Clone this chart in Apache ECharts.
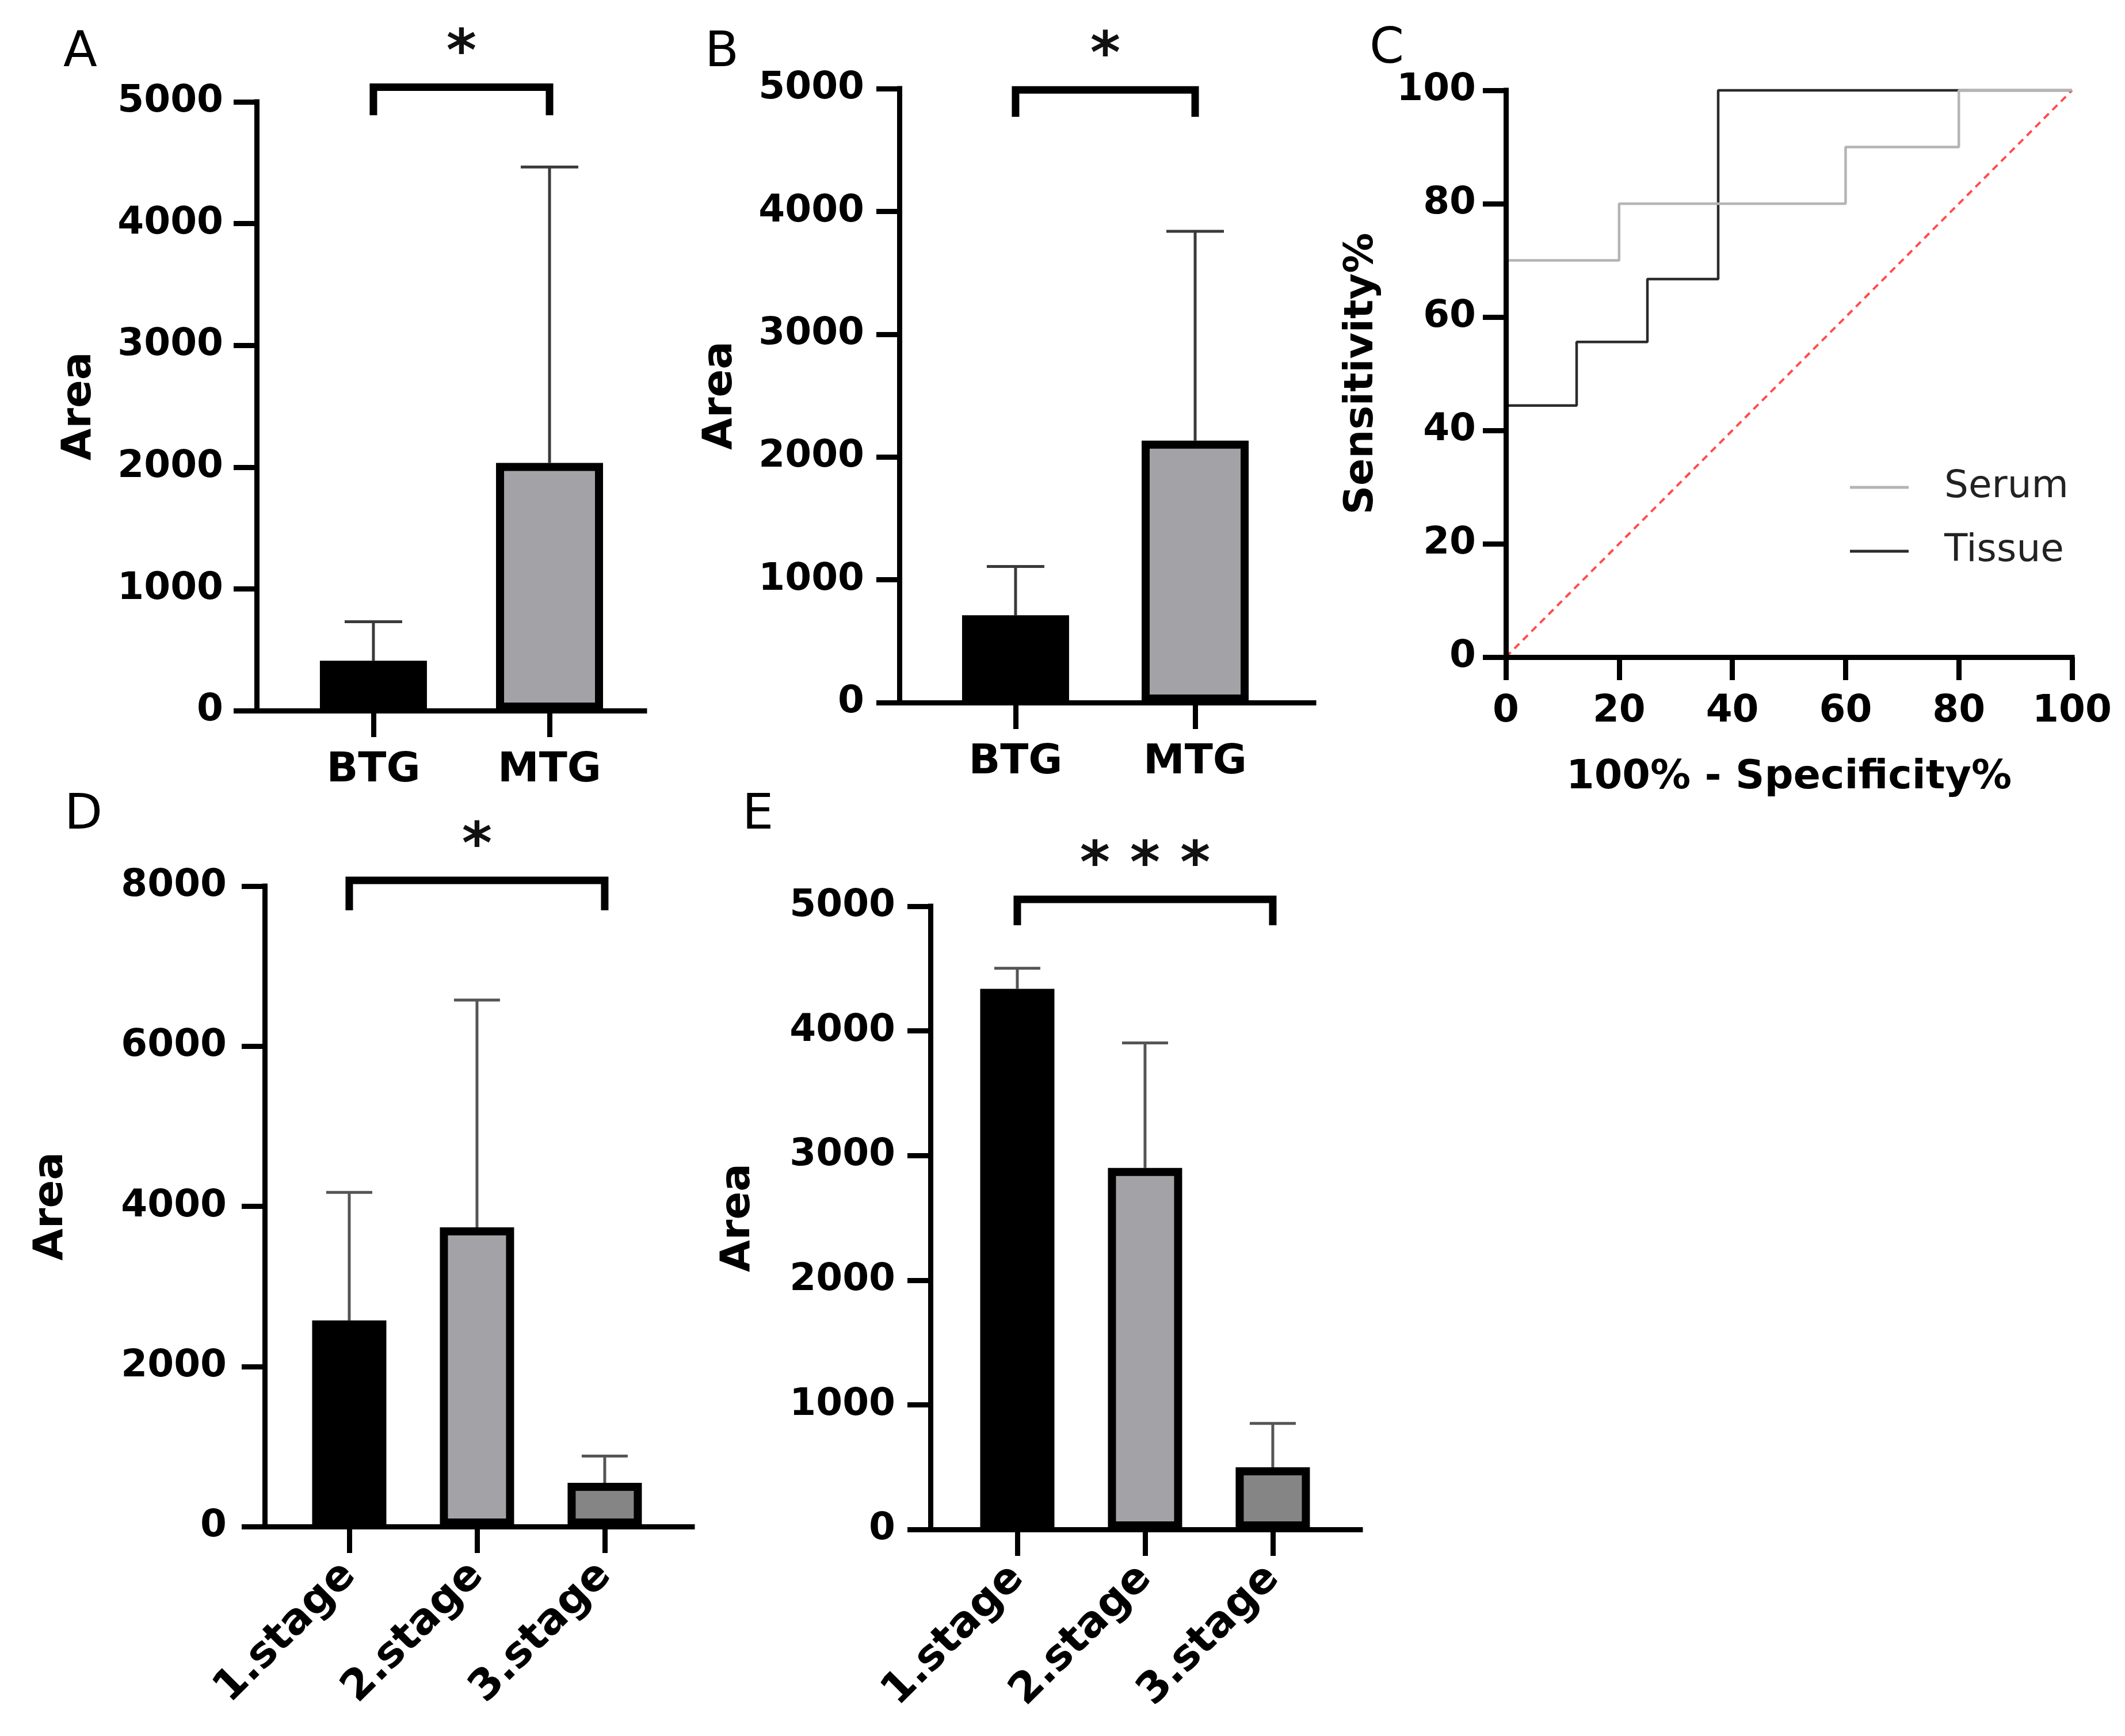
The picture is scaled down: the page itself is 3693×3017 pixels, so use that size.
<!DOCTYPE html>
<html>
<head>
<meta charset="utf-8">
<script src="https://cdn.jsdelivr.net/npm/echarts@6/dist/echarts.min.js"></script>
<style>
html,body{margin:0;padding:0;background:#fff;}
#c{width:3693px;height:3017px;}
</style>
</head>
<body>
<div id="c"></div>
<script>
// ---------- data ----------
const catsAB = ['BTG', 'MTG'];
const meanA = [410, 2035];
const upperA = [730, 4465];
const meanB = [711, 2133];
const upperB = [1108, 3838];

const catsDE = ['1.stage', '2.stage', '3.stage'];
const meanD = [2575, 3737, 546];
const upperD = [4175, 6576, 880];
const meanE = [4338, 2901, 499];
const upperE = [4503, 3903, 851];

const rocSerum = [[0,0],[0,70],[20,70],[20,80],[60,80],[60,90],[80,90],[80,100],[100,100]];
const rocTissue = [[0,0],[0,44.4],[12.5,44.4],[12.5,55.6],[25,55.6],[25,66.7],[37.5,66.7],[37.5,100],[100,100]];
const rocRef = [[0,0],[100,100]];

// significance brackets: [fromIndex, toIndex, bracketLevel, legEndLevel]
const bracketA = [0, 1, 5120, 4890];
const bracketB = [0, 1, 4990, 4770];
const bracketD = [0, 2, 8072, 7698];
const bracketE = [0, 2, 5055, 4848];
const starsA = '*', starsB = '*', starsD = '*', starsE = '* * *';

// ---------- styles ----------
const FF = 'DejaVu Sans';
const barFill = ['#000000', '#a3a3a7', '#858585'];

const chart = echarts.init(document.getElementById('c'));

function axisLineStyle() { return {show: true, onZero: false, lineStyle: {color: '#000', width: 9, cap: 'square'}}; }
const plain = v => String(v);

function barX(gi, min, max, cats, rotate) {
  const vals = cats.map((c, i) => i);
  return {
    type: 'value', gridIndex: gi, min: min, max: max, z: 10,
    axisLine: axisLineStyle(),
    axisTick: {show: true, customValues: vals, length: 46, lineStyle: {color: '#000', width: 9}},
    axisLabel: {customValues: vals, formatter: v => cats[Math.round(v)] || '',
      margin: rotate ? 74 : 68, rotate: rotate || 0, fontSize: rotate ? 74 : 72, fontWeight: 'bold', fontFamily: FF, color: '#000'},
    splitLine: {show: false}
  };
}
function barY(gi, max, interval, gap, margin) {
  return {
    type: 'value', gridIndex: gi, min: 0, max: max, interval: interval, z: 10,
    axisLine: axisLineStyle(),
    axisTick: {show: true, length: 40, lineStyle: {color: '#000', width: 9}},
    axisLabel: {margin: margin, fontSize: 66, fontWeight: 'bold', fontFamily: FF, color: '#000', formatter: plain},
    splitLine: {show: false},
    name: 'Area', nameLocation: 'middle', nameGap: gap,
    nameTextStyle: {fontSize: 72, fontWeight: 'bold', fontFamily: FF, color: '#000'}
  };
}
function barSeries(gi, means, bw) {
  return {
    type: 'bar', xAxisIndex: gi, yAxisIndex: gi, barWidth: bw, z: 3,
    itemStyle: {borderColor: '#000', borderWidth: 14},
    data: means.map((v, i) => ({value: [i, v], itemStyle: {color: barFill[i]}}))
  };
}
function errSeries(gi, means, uppers, hw, col) {
  return {
    type: 'custom', xAxisIndex: gi, yAxisIndex: gi, z: 1, clip: false,
    data: means.map((m, i) => [i, m, uppers[i]]),
    renderItem: function (params, api) {
      const p0 = api.coord([api.value(0), api.value(1)]);
      const p1 = api.coord([api.value(0), api.value(2)]);
      return {type: 'group', children: [
        {type: 'line', shape: {x1: p0[0], y1: p0[1], x2: p1[0], y2: p1[1]}, style: {stroke: col, lineWidth: 5}},
        {type: 'line', shape: {x1: p1[0] - hw, y1: p1[1], x2: p1[0] + hw, y2: p1[1]}, style: {stroke: col, lineWidth: 5}}
      ]};
    }
  };
}
function bracketSeries(gi, br, stars) {
  return {
    type: 'custom', xAxisIndex: gi, yAxisIndex: gi, z: 5, clip: false,
    data: [br],
    renderItem: function (params, api) {
      const a = api.coord([api.value(0), api.value(2)]);
      const b = api.coord([api.value(1), api.value(2)]);
      const leg = api.coord([api.value(0), api.value(3)])[1];
      return {type: 'group', children: [
        {type: 'polyline', shape: {points: [[a[0], leg], [a[0], a[1]], [b[0], b[1]], [b[0], leg]]},
          style: {stroke: '#000', lineWidth: 13, fill: null, lineJoin: 'miter', lineCap: 'butt'}},
        {type: 'text', style: {text: stars, x: (a[0] + b[0]) / 2, y: a[1] - 56, align: 'center', verticalAlign: 'middle',
          font: 'bold 100px "DejaVu Sans"', fill: '#111'}}
      ]};
    }
  };
}

const option = {
  backgroundColor: '#fff',
  animation: false,
  textStyle: {fontFamily: FF},
  grid: [
    {left: 446, top: 177, width: 674, height: 1058},
    {left: 1563, top: 154, width: 720, height: 1067},
    {left: 2617, top: 157, width: 984, height: 985},
    {left: 460, top: 1540, width: 743, height: 1113},
    {left: 1617, top: 1575, width: 747, height: 1083}
  ],
  xAxis: [
    barX(0, -0.663, 1.539, catsAB),
    barX(1, -0.647, 1.660, catsAB),
    {type: 'value', gridIndex: 2, min: 0, max: 100, interval: 20, z: 10,
      axisLine: axisLineStyle(),
      axisTick: {show: true, length: 40, lineStyle: {color: '#000', width: 9}},
      axisLabel: {margin: 62, fontSize: 66, fontWeight: 'bold', fontFamily: FF, color: '#000', formatter: plain},
      splitLine: {show: false},
      name: '100% - Specificity%', nameLocation: 'middle', nameGap: 175,
      nameTextStyle: {fontSize: 70, fontWeight: 'bold', fontFamily: FF, color: '#000'}},
    barX(3, -0.662, 2.685, catsDE, 45),
    barX(4, -0.680, 2.685, catsDE, 45)
  ],
  yAxis: [
    barY(0, 5000, 1000, 272, 58),
    barY(1, 5000, 1000, 275, 61),
    {type: 'value', gridIndex: 2, min: 0, max: 100, interval: 20, z: 10,
      axisLine: axisLineStyle(),
      axisTick: {show: true, length: 40, lineStyle: {color: '#000', width: 9}},
      axisLabel: {margin: 52, fontSize: 66, fontWeight: 'bold', fontFamily: FF, color: '#000', formatter: plain},
      splitLine: {show: false},
      name: 'Sensitivity%', nameLocation: 'middle', nameGap: 215,
      nameTextStyle: {fontSize: 70, fontWeight: 'bold', fontFamily: FF, color: '#000'}},
    barY(3, 8000, 2000, 335, 66),
    barY(4, 5000, 1000, 298, 61)
  ],
  legend: {
    data: [{name: 'Serum', icon: 'rect'}, {name: 'Tissue', icon: 'rect'}],
    orient: 'vertical', left: 3210, top: 807,
    itemWidth: 102, itemHeight: 5, itemGap: 41,
    textStyle: {fontSize: 66, fontFamily: FF, color: '#222', lineHeight: 70, padding: [0, 0, 0, 57]}
  },
  graphic: [
    {type: 'text', left: 110, top: 50, style: {text: 'A', font: '86px "DejaVu Sans"', fill: '#000'}},
    {type: 'text', left: 1225, top: 50, style: {text: 'B', font: '86px "DejaVu Sans"', fill: '#000'}},
    {type: 'text', left: 2380, top: 44, style: {text: 'C', font: '86px "DejaVu Sans"', fill: '#000'}},
    {type: 'text', left: 112, top: 1375, style: {text: 'D', font: '86px "DejaVu Sans"', fill: '#000'}},
    {type: 'text', left: 1290, top: 1375, style: {text: 'E', font: '86px "DejaVu Sans"', fill: '#000'}}
  ],
  series: [
    errSeries(0, meanA, upperA, 50, '#3a3a3a'),
    barSeries(0, meanA, 186),
    bracketSeries(0, bracketA, starsA),
    errSeries(1, meanB, upperB, 50, '#3a3a3a'),
    barSeries(1, meanB, 186),
    bracketSeries(1, bracketB, starsB),
    errSeries(3, meanD, upperD, 40, '#555'),
    barSeries(3, meanD, 129),
    bracketSeries(3, bracketD, starsD),
    errSeries(4, meanE, upperE, 40, '#555'),
    barSeries(4, meanE, 129),
    bracketSeries(4, bracketE, starsE),
    {type: 'line', name: 'ref', xAxisIndex: 2, yAxisIndex: 2, data: rocRef, symbol: 'none', clip: false, z: 2,
      lineStyle: {color: '#ff4d4d', width: 4, type: [12, 9]}, itemStyle: {color: '#ff4d4d'}},
    {type: 'line', name: 'Tissue', xAxisIndex: 2, yAxisIndex: 2, data: rocTissue, symbol: 'none', clip: false, z: 3,
      lineStyle: {color: '#2b2b2b', width: 4.5}, itemStyle: {color: '#2b2b2b'}},
    {type: 'line', name: 'Serum', xAxisIndex: 2, yAxisIndex: 2, data: rocSerum, symbol: 'none', clip: false, z: 4,
      lineStyle: {color: '#b4b4b4', width: 4.5}, itemStyle: {color: '#b4b4b4'}}
  ]
};
chart.setOption(option);
</script>
</body>
</html>
